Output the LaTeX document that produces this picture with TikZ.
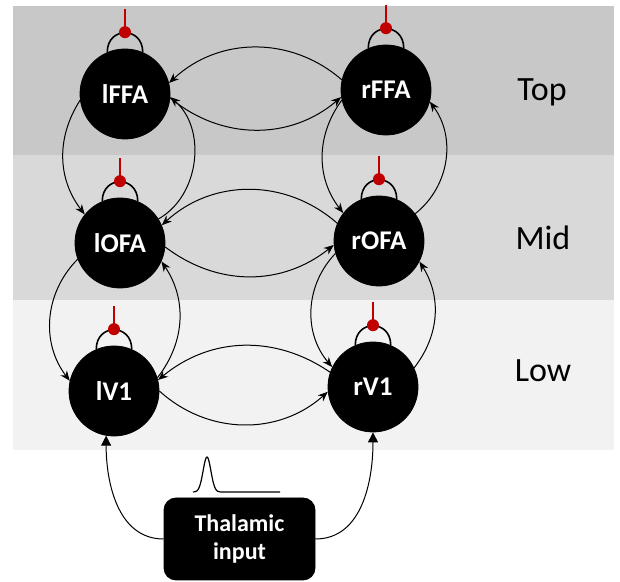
\documentclass[tikz,border=0pt]{standalone}
\usepackage{fontspec}
\setmainfont{Carlito}
\usetikzlibrary{arrows.meta,positioning}
\definecolor{topband}{RGB}{200,200,200}
\definecolor{midband}{RGB}{217,217,217}
\definecolor{lowband}{RGB}{242,242,242}
\definecolor{inhibred}{RGB}{192,0,0}
\begin{document}
\begin{tikzpicture}[x=0.5pt,y=0.5pt,
  area/.style={circle,draw,fill,minimum size=45pt,inner sep=0pt,text=white,
    font=\fontsize{13.5}{16}\selectfont\bfseries},
  conn/.style={-{Stealth[length=5pt,width=4pt]},line width=0.5pt},
  thal/.style={-{Triangle[length=5pt,width=5pt]},line width=0.5pt},
  selfloop/.style={line width=0.8pt},
  reddot/.style={circle,fill=inhibred,minimum size=6pt,inner sep=0pt},
  redstub/.style={inhibred,line width=0.6pt},
  level/.style={font=\fontsize{17}{20}\selectfont}]
\useasboundingbox (0,0) rectangle (620,582);
\fill[topband] (13,576) rectangle (614,427);
\fill[midband] (13,427) rectangle (614,282);
\fill[lowband] (13,282) rectangle (614,132);

\node[area] (lFFA) at (125,488) {lFFA};
\node[area] (rFFA) at (386,492) {rFFA};
\node[area] (lOFA) at (120,339) {lOFA};
\node[area] (rOFA) at (379,341) {rOFA};
\node[area] (lV1) at (114,191) {lV1};
\node[area] (rV1) at (373,195) {rV1};

\node[level] (top) at (542,490) {Top};
\node[level] (mid) at (543,344) {Mid};
\node[level] (low) at (543,211) {Low};

% self connections
\draw[selfloop] (lFFA.113) .. controls +(0,26) and +(0,26) .. (lFFA.67);
\draw[selfloop] (rFFA.113) .. controls +(0,26) and +(0,26) .. (rFFA.67);
\draw[selfloop] (lOFA.113) .. controls +(0,26) and +(0,26) .. (lOFA.67);
\draw[selfloop] (rOFA.113) .. controls +(0,26) and +(0,26) .. (rOFA.67);
\draw[selfloop] (lV1.113) .. controls +(0,26) and +(0,26) .. (lV1.67);
\draw[selfloop] (rV1.113) .. controls +(0,26) and +(0,26) .. (rV1.67);
\node[reddot,above=5pt of lFFA] (lFFAdot) {};
\node[reddot,above=5pt of rFFA] (rFFAdot) {};
\node[reddot,above=5pt of lOFA] (lOFAdot) {};
\node[reddot,above=5pt of rOFA] (rOFAdot) {};
\node[reddot,above=5pt of lV1] (lV1dot) {};
\node[reddot,above=5pt of rV1] (rV1dot) {};
\draw[redstub] (lFFAdot.center) -- ++(0,23);
\draw[redstub] (rFFAdot.center) -- ++(0,23);
\draw[redstub] (lOFAdot.center) -- ++(0,23);
\draw[redstub] (rOFAdot.center) -- ++(0,23);
\draw[redstub] (lV1dot.center) -- ++(0,23);
\draw[redstub] (rV1dot.center) -- ++(0,23);

% lateral
\draw[conn] (rFFA.167) to[bend right=42] (lFFA.14);
\draw[conn] (lFFA.-5) to[bend right=40] (rFFA.189);
\draw[conn] (rOFA.157) to[bend right=42] (lOFA.23);
\draw[conn] (lOFA.-5) to[bend right=38] (rOFA.185);
\draw[conn] (rV1.161) to[bend right=37] (lV1.14);
\draw[conn] (lV1.0) to[bend right=42] (rV1.186);

% feedforward / feedback
\draw[conn] (lFFA.188) to[bend right=35] (lOFA.141);
\draw[conn] (lOFA.32) to[bend right=55] (lFFA.-4);
\draw[conn] (rFFA.193) to[bend right=37] (rOFA.142);
\draw[conn] (rOFA.37) to[bend right=44] (rFFA.-15);
\draw[conn] (lOFA.201) to[bend right=41] (lV1.167);
\draw[conn] (lV1.17) to[bend right=36] (lOFA.-24);
\draw[conn] (rOFA.196) to[bend right=42] (rV1.154);
\draw[conn] (rV1.25) to[bend right=35] (rOFA.-27);

% input
\node[draw,fill,rounded corners=6pt,minimum width=75.5pt,minimum height=41pt,
  text=white,align=center,font=\fontsize{12}{14}\selectfont\bfseries]
  (thalamus) at (239.5,43) {Thalamic\\input};
\draw[thal] (thalamus.west) to[out=180,in=-90] (lV1.260);
\draw[thal] (thalamus.east) to[out=0,in=-90] (rV1.south);
\draw[line width=0.6pt] plot[domain=193:226,samples=60]
  (\x,{90+35*exp(-((\x-207)/5.5)^2)}) -- (280,90);
\end{tikzpicture}
\end{document}
